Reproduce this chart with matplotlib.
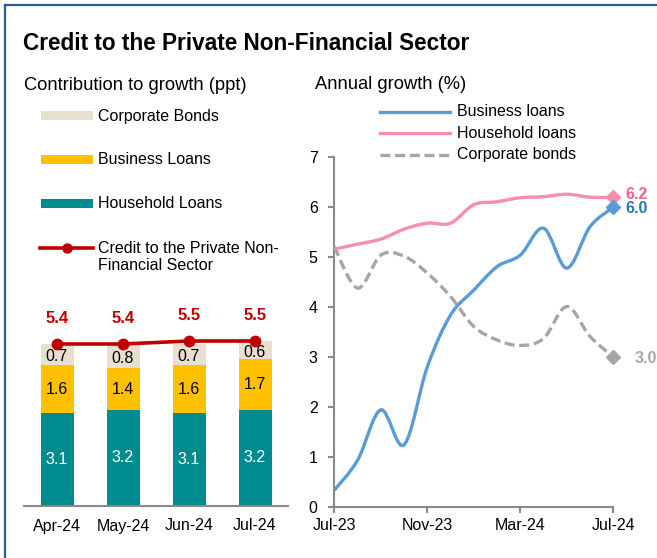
import matplotlib
matplotlib.use("Agg")
import matplotlib.pyplot as plt
import numpy as np
from matplotlib.path import Path
from matplotlib.patches import PathPatch, Rectangle
from matplotlib.lines import Line2D

plt.rcParams['font.family'] = ['Liberation Sans', 'DejaVu Sans']

# ---------------- data ----------------
bar_months = ["Apr-24", "May-24", "Jun-24", "Jul-24"]
household_contrib = [3.1, 3.2, 3.1, 3.2]
business_contrib = [1.6, 1.4, 1.6, 1.7]
bonds_contrib = [0.7, 0.8, 0.7, 0.6]
total_credit = [5.4, 5.4, 5.5, 5.5]

line_months = ["Jul-23", "Aug-23", "Sep-23", "Oct-23", "Nov-23", "Dec-23", "Jan-24",
               "Feb-24", "Mar-24", "Apr-24", "May-24", "Jun-24", "Jul-24"]
business_growth = [0.33, 0.93, 1.94, 1.24, 2.80, 3.84, 4.34, 4.81, 5.04, 5.58, 4.78, 5.61, 6.0]
household_growth = [5.16, 5.26, 5.36, 5.56, 5.68, 5.68, 6.05, 6.11, 6.19, 6.21, 6.26, 6.20, 6.2]
bonds_growth = [5.21, 4.38, 5.04, 5.02, 4.68, 4.21, 3.61, 3.34, 3.23, 3.37, 4.01, 3.41, 3.0]
line_tick_labels = ["Jul-23", "Nov-23", "Mar-24", "Jul-24"]

# colours
c_house = "#008c8f"
c_bus = "#ffc000"
c_bond = "#e7dfd0"
c_total = "#c00000"
c_blue = "#5b9bd5"
c_blue_lbl = "#2e75b6"
c_pink = "#f78fab"
c_pink_lbl = "#f0608a"
c_grey = "#a6a6a6"
c_axis = "#898989"

W, H = 657, 558
fig = plt.figure(figsize=(W / 100, H / 100), dpi=100)


def fx(px):
    return px / W


def fy(py):
    return 1 - py / H


# frame
fig.add_artist(Line2D([fx(5), 1.0], [fy(5), fy(5)], color="#2f5c8a", lw=1.6))
fig.add_artist(Line2D([fx(5), fx(5)], [fy(5), 0.0], color="#2f5c8a", lw=1.6))

# titles
fig.text(fx(23), fy(44), "Credit to the Private Non-Financial Sector", fontsize=16.3,
         fontweight="bold", va="center", ha="left")
fig.text(fx(24), fy(86), "Contribution to growth (ppt)", fontsize=13.2, va="center", ha="left")
fig.text(fx(315), fy(85), "Annual growth (%)", fontsize=13.2, va="center", ha="left")

# ---------------- left panel ----------------
axL = fig.add_axes([fx(24), fy(506), (288 - 24) / W, (506 - 316) / H])
x = np.arange(len(bar_months))
bw = 0.5
hh = np.array(household_contrib)
bu = np.array(business_contrib)
bo = np.array(bonds_contrib)
axL.bar(x, hh, width=bw, color=c_house, zorder=2)
axL.bar(x, bu, bottom=hh, width=bw, color=c_bus, zorder=2)
axL.bar(x, bo, bottom=hh + bu, width=bw, color=c_bond, zorder=2)
axL.plot(x, total_credit, color=c_total, lw=2.6, marker="o", ms=7.5, zorder=3)
for i in range(len(x)):
    axL.text(x[i], hh[i] / 2, f"{hh[i]:.1f}", color="white", ha="center", va="center", fontsize=11.5)
    axL.text(x[i], hh[i] + bu[i] / 2, f"{bu[i]:.1f}", color="black", ha="center", va="center", fontsize=11.5)
    axL.text(x[i], hh[i] + bu[i] + bo[i] / 2 - 0.08, f"{bo[i]:.1f}", color="black", ha="center",
             va="center", fontsize=11.5)
    axL.annotate(f"{total_credit[i]:.1f}", (x[i], total_credit[i]), xytext=(0, 18.5),
                 textcoords="offset points", ha="center", va="center", color=c_total,
                 fontsize=12, fontweight="bold")
axL.set_xlim(-0.5, 3.5)
axL.set_ylim(0, 190 / 30)
for s in ["top", "right", "left"]:
    axL.spines[s].set_visible(False)
axL.spines["bottom"].set_color(c_axis)
axL.spines["bottom"].set_linewidth(1.5)
axL.set_yticks([])
axL.set_xticks(x)
axL.set_xticklabels(bar_months, fontsize=11.5)
axL.tick_params(axis="x", length=0, pad=9)

# left legend (drawn in figure coords)
leg_items = [("Corporate Bonds", c_bond, 115), ("Business Loans", c_bus, 159),
             ("Household Loans", c_house, 203)]
for lab, col, yy in leg_items:
    fig.add_artist(Rectangle((fx(41), fy(yy + 4.5)), (93 - 41) / W, 9 / H, color=col, lw=0))
    fig.text(fx(98), fy(yy + 1), lab, fontsize=11.5, va="center", ha="left")
fig.add_artist(Line2D([fx(40), fx(93)], [fy(248), fy(248)], color=c_total, lw=2.6))
fig.add_artist(Line2D([fx(66.5)], [fy(248)], color=c_total, marker="o", ms=6.5))
fig.text(fx(98), fy(257), "Credit to the Private Non-\nFinancial Sector", fontsize=11.5,
         va="center", ha="left", linespacing=1.1)

# ---------------- right panel ----------------
axR = fig.add_axes([fx(334.3), fy(506.7), (613.3 - 334.3) / W, (506.7 - 157.3) / H])


def smooth_path(xs, ys):
    pts = np.column_stack([xs, ys]).astype(float)
    n = len(pts)
    verts = [pts[0]]
    codes = [Path.MOVETO]
    for i in range(n - 1):
        p0 = pts[i - 1] if i > 0 else pts[i]
        p1 = pts[i]
        p2 = pts[i + 1]
        p3 = pts[i + 2] if i + 2 < n else pts[i + 1]
        c1 = p1 + (p2 - p0) / 6.0
        c2 = p2 - (p3 - p1) / 6.0
        verts += [c1, c2, p2]
        codes += [Path.CURVE4] * 3
    return Path(verts, codes)


xi = np.arange(len(line_months))
series = [(bonds_growth, c_grey, (0, (3, 1.4)), c_grey),
          (household_growth, c_pink, "solid", c_pink_lbl),
          (business_growth, c_blue, "solid", c_blue_lbl)]
for vals, col, ls, lcol in series:
    axR.add_patch(PathPatch(smooth_path(xi, vals), fill=False, edgecolor=col, lw=2.4,
                            linestyle=ls, capstyle="butt", zorder=3))
    axR.plot([xi[-1]], [vals[-1]], marker="D", color=col, ms=7, ls="none", zorder=4,
             clip_on=False)

axR.annotate(f"{household_growth[-1]:.1f}", (xi[-1], household_growth[-1]), xytext=(9, 2),
             textcoords="offset points", color=c_pink_lbl, fontsize=11.5, fontweight="bold",
             va="center", ha="left", annotation_clip=False)
axR.annotate(f"{business_growth[-1]:.1f}", (xi[-1], business_growth[-1]), xytext=(9, -1),
             textcoords="offset points", color=c_blue_lbl, fontsize=11.5, fontweight="bold",
             va="center", ha="left", annotation_clip=False)
axR.annotate(f"{bonds_growth[-1]:.1f}", (xi[-1], bonds_growth[-1]), xytext=(15, -1),
             textcoords="offset points", color=c_grey, fontsize=11.5, fontweight="bold",
             va="center", ha="left", annotation_clip=False)

axR.set_xlim(0, 12)
axR.set_ylim(0, 7)
axR.set_yticks(range(0, 8))
axR.set_xticks([0, 4, 8, 12])
axR.set_xticklabels(line_tick_labels)
for s in ["top", "right"]:
    axR.spines[s].set_visible(False)
for s in ["left", "bottom"]:
    axR.spines[s].set_color(c_axis)
    axR.spines[s].set_linewidth(1.5)
axR.tick_params(axis="both", colors=c_axis, labelcolor="black", labelsize=11.5, width=1.5,
                length=4)
axR.tick_params(axis="y", pad=8)
axR.tick_params(axis="x", pad=4)

# right legend
leg_r = [("Business loans", c_blue, "solid", 112), ("Household loans", c_pink, "solid", 133),
         ("Corporate bonds", c_grey, (0, (3, 1.4)), 155)]
for lab, col, ls, yy in leg_r:
    fig.add_artist(Line2D([fx(380), fx(450)], [fy(yy), fy(yy)], color=col, lw=2.4, linestyle=ls))
    fig.text(fx(457), fy(yy), lab, fontsize=11.5, va="center", ha="left")

fig.savefig("out.png", dpi=100)
